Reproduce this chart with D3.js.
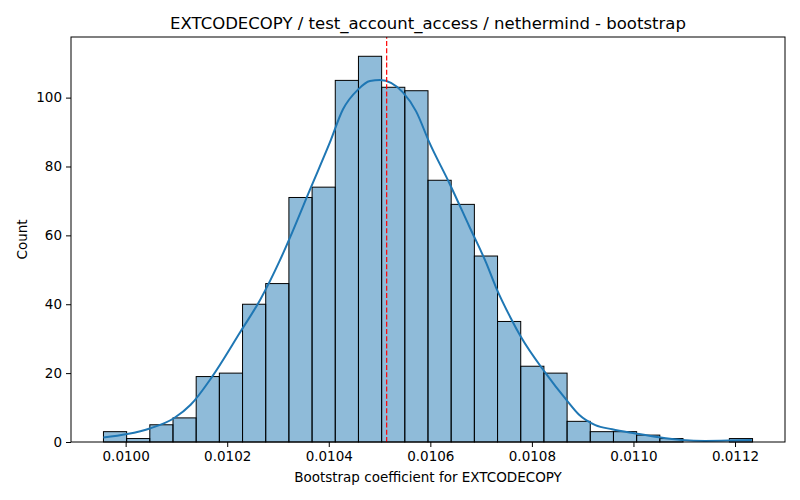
<!DOCTYPE html>
<html>
<head>
<script src="https://cdn.jsdelivr.net/npm/d3@7"></script>
<style>
  body { margin: 0; background: #fff; }
  svg { font-family: "DejaVu Sans", sans-serif; }
</style>
</head>
<body>
<div id="vis"></div>
<script>
// bootstrap histogram, 28 bins
const binStart = 0.0099563;
const binWidth = 0.00004565;
const counts = [3, 1, 5, 7, 19, 20, 40, 46, 71, 74, 105, 112, 103, 102,
                76, 69, 54, 35, 22, 20, 6, 3, 3, 2, 1, 0, 0, 1];

// kde curve (x, count)
const kdeX = [0.009956, 0.010003, 0.010049, 0.010095, 0.010128, 0.010170, 0.010226,
              0.010265, 0.010303, 0.010324, 0.010363, 0.010402, 0.010428, 0.010458,
              0.010481, 0.010501, 0.010546, 0.010572, 0.010598, 0.010638, 0.010677,
              0.010710, 0.010729, 0.010759, 0.010778, 0.010827, 0.010868, 0.010893,
              0.010925, 0.010958, 0.011004, 0.011050, 0.011095, 0.011141, 0.011187,
              0.011233];
const kdeY = [1.3, 2.3, 4.0, 6.9, 10.8, 18.9, 32,
              41.3, 52.5, 59.5, 73.3, 86.9, 96.6, 102.4,
              104.8, 105.1, 101.5, 96, 87, 75, 62.5,
              52, 45, 35.8, 30.6, 20.0, 12.2, 7.9,
              4.9, 3.7, 2.5, 1.4, 0.6, 0.3, 0.4,
              0.6];

const meanValue = 0.010514;
const xTicks = [0.0100, 0.0102, 0.0104, 0.0106, 0.0108, 0.0110, 0.0112];
const yTicks = [0, 20, 40, 60, 80, 100];

const title = "EXTCODECOPY / test_account_access / nethermind - bootstrap";
const xLabel = "Bootstrap coefficient for EXTCODECOPY";
const yLabel = "Count";

const width = 800, height = 500;
const margin = {left: 71, right: 15, top: 37, bottom: 58};

const svg = d3.select("#vis").append("svg")
    .attr("width", width)
    .attr("height", height);

const binEnd = binStart + binWidth * counts.length;
const pad = (binEnd - binStart) * 0.05;
const x = d3.scaleLinear()
    .domain([binStart - pad, binEnd + pad])
    .range([margin.left, width - margin.right]);
const y = d3.scaleLinear()
    .domain([0, d3.max(counts) * 1.05])
    .range([height - margin.bottom, margin.top]);

const bins = counts.map((c, i) => ({x0: binStart + i * binWidth, x1: binStart + (i + 1) * binWidth, c: c}));

svg.append("g")
    .selectAll("rect")
    .data(bins)
    .join("rect")
    .attr("x", d => x(d.x0))
    .attr("width", d => x(d.x1) - x(d.x0))
    .attr("y", d => y(d.c))
    .attr("height", d => y(0) - y(d.c))
    .attr("fill", "#1f77b4")
    .attr("fill-opacity", 0.5)
    .attr("stroke", "#000")
    .attr("stroke-width", 1);

const kde = kdeX.map((v, i) => [v, kdeY[i]]);
svg.append("path")
    .datum(kde)
    .attr("fill", "none")
    .attr("stroke", "#1f77b4")
    .attr("stroke-width", 2)
    .attr("d", d3.line()
        .x(d => x(d[0]))
        .y(d => y(d[1]))
        .curve(d3.curveMonotoneX));

svg.append("line")
    .attr("x1", x(meanValue)).attr("x2", x(meanValue))
    .attr("y1", y.range()[0]).attr("y2", y.range()[1])
    .attr("stroke", "red")
    .attr("stroke-width", 1.2)
    .attr("stroke-dasharray", "5,2.2");

// axes
const xAxis = d3.axisBottom(x).tickValues(xTicks).tickFormat(d3.format(".4f")).tickSizeOuter(0).tickSize(5).tickPadding(4);
const yAxis = d3.axisLeft(y).tickValues(yTicks).tickFormat(d3.format("d")).tickSizeOuter(0).tickSize(5).tickPadding(4);

const gx = svg.append("g").attr("transform", "translate(0," + y(0) + ")").call(xAxis);
const gy = svg.append("g").attr("transform", "translate(" + margin.left + ",0)").call(yAxis);
[gx, gy].forEach(g => {
    g.select(".domain").remove();
    g.selectAll("text").attr("font-size", 13.5).attr("font-family", "DejaVu Sans").attr("fill", "#000");
    g.selectAll("line").attr("stroke", "#000");
});

// frame
svg.append("rect")
    .attr("x", margin.left).attr("y", margin.top)
    .attr("width", width - margin.left - margin.right)
    .attr("height", height - margin.top - margin.bottom)
    .attr("fill", "none")
    .attr("stroke", "#000")
    .attr("stroke-width", 1);

const cx = (margin.left + width - margin.right) / 2;
svg.append("text")
    .attr("x", cx).attr("y", 29)
    .attr("text-anchor", "middle")
    .attr("font-size", 16.5)
    .text(title);

svg.append("text")
    .attr("x", cx).attr("y", 482)
    .attr("text-anchor", "middle")
    .attr("font-size", 13.5)
    .text(xLabel);

svg.append("text")
    .attr("transform", "translate(27," + ((margin.top + height - margin.bottom) / 2) + ") rotate(-90)")
    .attr("text-anchor", "middle")
    .attr("font-size", 13.5)
    .text(yLabel);
</script>
</body>
</html>
